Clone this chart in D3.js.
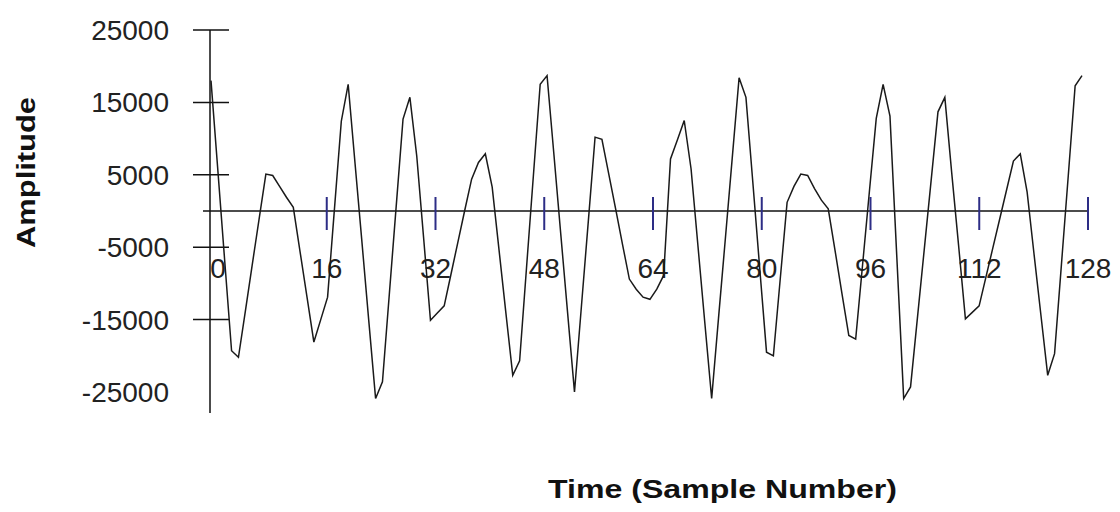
<!DOCTYPE html>
<html lang="en">
<head>
  <meta charset="UTF-8">
  <title>amplitude</title>
  <script src="https://cdn.jsdelivr.net/npm/d3@7"></script>
  <style>
    * { padding: 0; margin: 0; }
    html, body { width: 1120px; height: 512px; overflow: hidden; background: #fff; }
  </style>
</head>
<body>
  <script>
    // sample values (128 samples)
    const amplitude = [
      18000, 5600, -6900, -19300, -20200, -13900, -7500, -1200, 5100, 4900,
      3400, 1900, 500, -5700, -11900, -18100, -15000, -11900, 300, 12400,
      17500, 6600, -4200, -15100, -25900, -23600, -11500, 600, 12700, 15700,
      7600, -3700, -15100, -14100, -13100, -8700, -4300, 100, 4400, 6700,
      7900, 3300, -5400, -14100, -22700, -20700, -7900, 4800, 17500, 18700,
      7800, -3200, -14100, -25000, -13300, -1600, 10200, 9900, 5100, 300,
      -4600, -9400, -10800, -11900, -12200, -10800, -8900, 7200, 9800, 12500,
      5800, -4800, -15400, -25900, -14800, -3800, 7300, 18400, 15700, 4000,
      -7800, -19500, -20000, -9400, 1200, 3400, 5100, 4900, 3100, 1500,
      300, -5500, -11400, -17200, -17700, -7500, 2700, 12800, 17500, 13100,
      -6400, -25900, -24300, -14800, -5300, 4200, 13700, 15700, 5300, -4700,
      -14900, -14000, -13100, -9100, -5100, -1100, 2900, 6900, 7900, 2600,
      -5900, -14300, -22700, -19700, -7400, 4900, 17300, 18700
    ]
    const xTickValues = [0, 16, 32, 48, 64, 80, 96, 112, 128]
    const yTickValues = [25000, 15000, 5000, -5000, -15000, -25000]

    const svg = d3.select('body').append('svg').attr('width', 1120).attr('height', 512)

    // samples run from the y axis to just before the 128 tick
    const x = d3.scaleLinear().domain([0, amplitude.length - 1]).range([211, 1082])
    // tick positions along the time axis
    const xt = d3.scaleLinear().domain([0, 128]).range([218, 1088])
    const y = d3.scaleLinear().domain([-25000, 25000]).range([392, 30])

    const font = '"Liberation Sans", Arial, sans-serif'

    // y axis
    svg.append('line')
      .attr('x1', 210).attr('x2', 210).attr('y1', y(25000)).attr('y2', 413)
      .attr('stroke', '#111').attr('stroke-width', 1.5)
    svg.selectAll('.ytick').data(yTickValues.filter(d => d > -25000)).enter().append('line')
      .attr('class', 'ytick')
      .attr('x1', 193).attr('x2', 229).attr('y1', d => y(d)).attr('y2', d => y(d))
      .attr('stroke', '#111').attr('stroke-width', 1.5)
    svg.selectAll('.ylab').data(yTickValues).enter().append('text')
      .attr('class', 'ylab')
      .attr('x', 169).attr('y', d => y(d)).attr('dy', '0.36em')
      .attr('text-anchor', 'end')
      .style('font-family', font).style('font-size', '28px').attr('fill', '#222')
      .text(d => d)

    // x axis at zero
    svg.append('line')
      .attr('x1', 203).attr('x2', xt(128)).attr('y1', y(0)).attr('y2', y(0))
      .attr('stroke', '#111').attr('stroke-width', 1.5)
    svg.selectAll('.xtick').data(xTickValues.filter(d => d > 0)).enter().append('line')
      .attr('class', 'xtick')
      .attr('x1', d => xt(d)).attr('x2', d => xt(d)).attr('y1', y(0) - 14).attr('y2', y(0) + 19)
      .attr('stroke', '#2d2d86').attr('stroke-width', 2)
    svg.selectAll('.xlab').data(xTickValues).enter().append('text')
      .attr('class', 'xlab')
      .attr('x', d => xt(d)).attr('y', 278)
      .attr('text-anchor', 'middle')
      .style('font-family', font).style('font-size', '28px').attr('fill', '#222')
      .text(d => d)

    // the signal
    const line = d3.line().x((d, i) => x(i)).y(d => y(d))
    svg.append('path').datum(amplitude)
      .attr('d', line)
      .attr('fill', 'none').attr('stroke', '#1a1a1a').attr('stroke-width', 1.5)
      .attr('stroke-linejoin', 'miter')

    // axis titles
    svg.append('text')
      .attr('x', 548).attr('y', 498)
      .attr('textLength', 349).attr('lengthAdjust', 'spacingAndGlyphs')
      .style('font-family', font).style('font-size', '25px').style('font-weight', 'bold').attr('fill', '#111')
      .text('Time (Sample Number)')
    svg.append('text')
      .attr('transform', 'translate(35, 248) rotate(-90)')
      .attr('textLength', 151).attr('lengthAdjust', 'spacingAndGlyphs')
      .style('font-family', font).style('font-size', '25px').style('font-weight', 'bold').attr('fill', '#111')
      .text('Amplitude')
  </script>
</body>
</html>
